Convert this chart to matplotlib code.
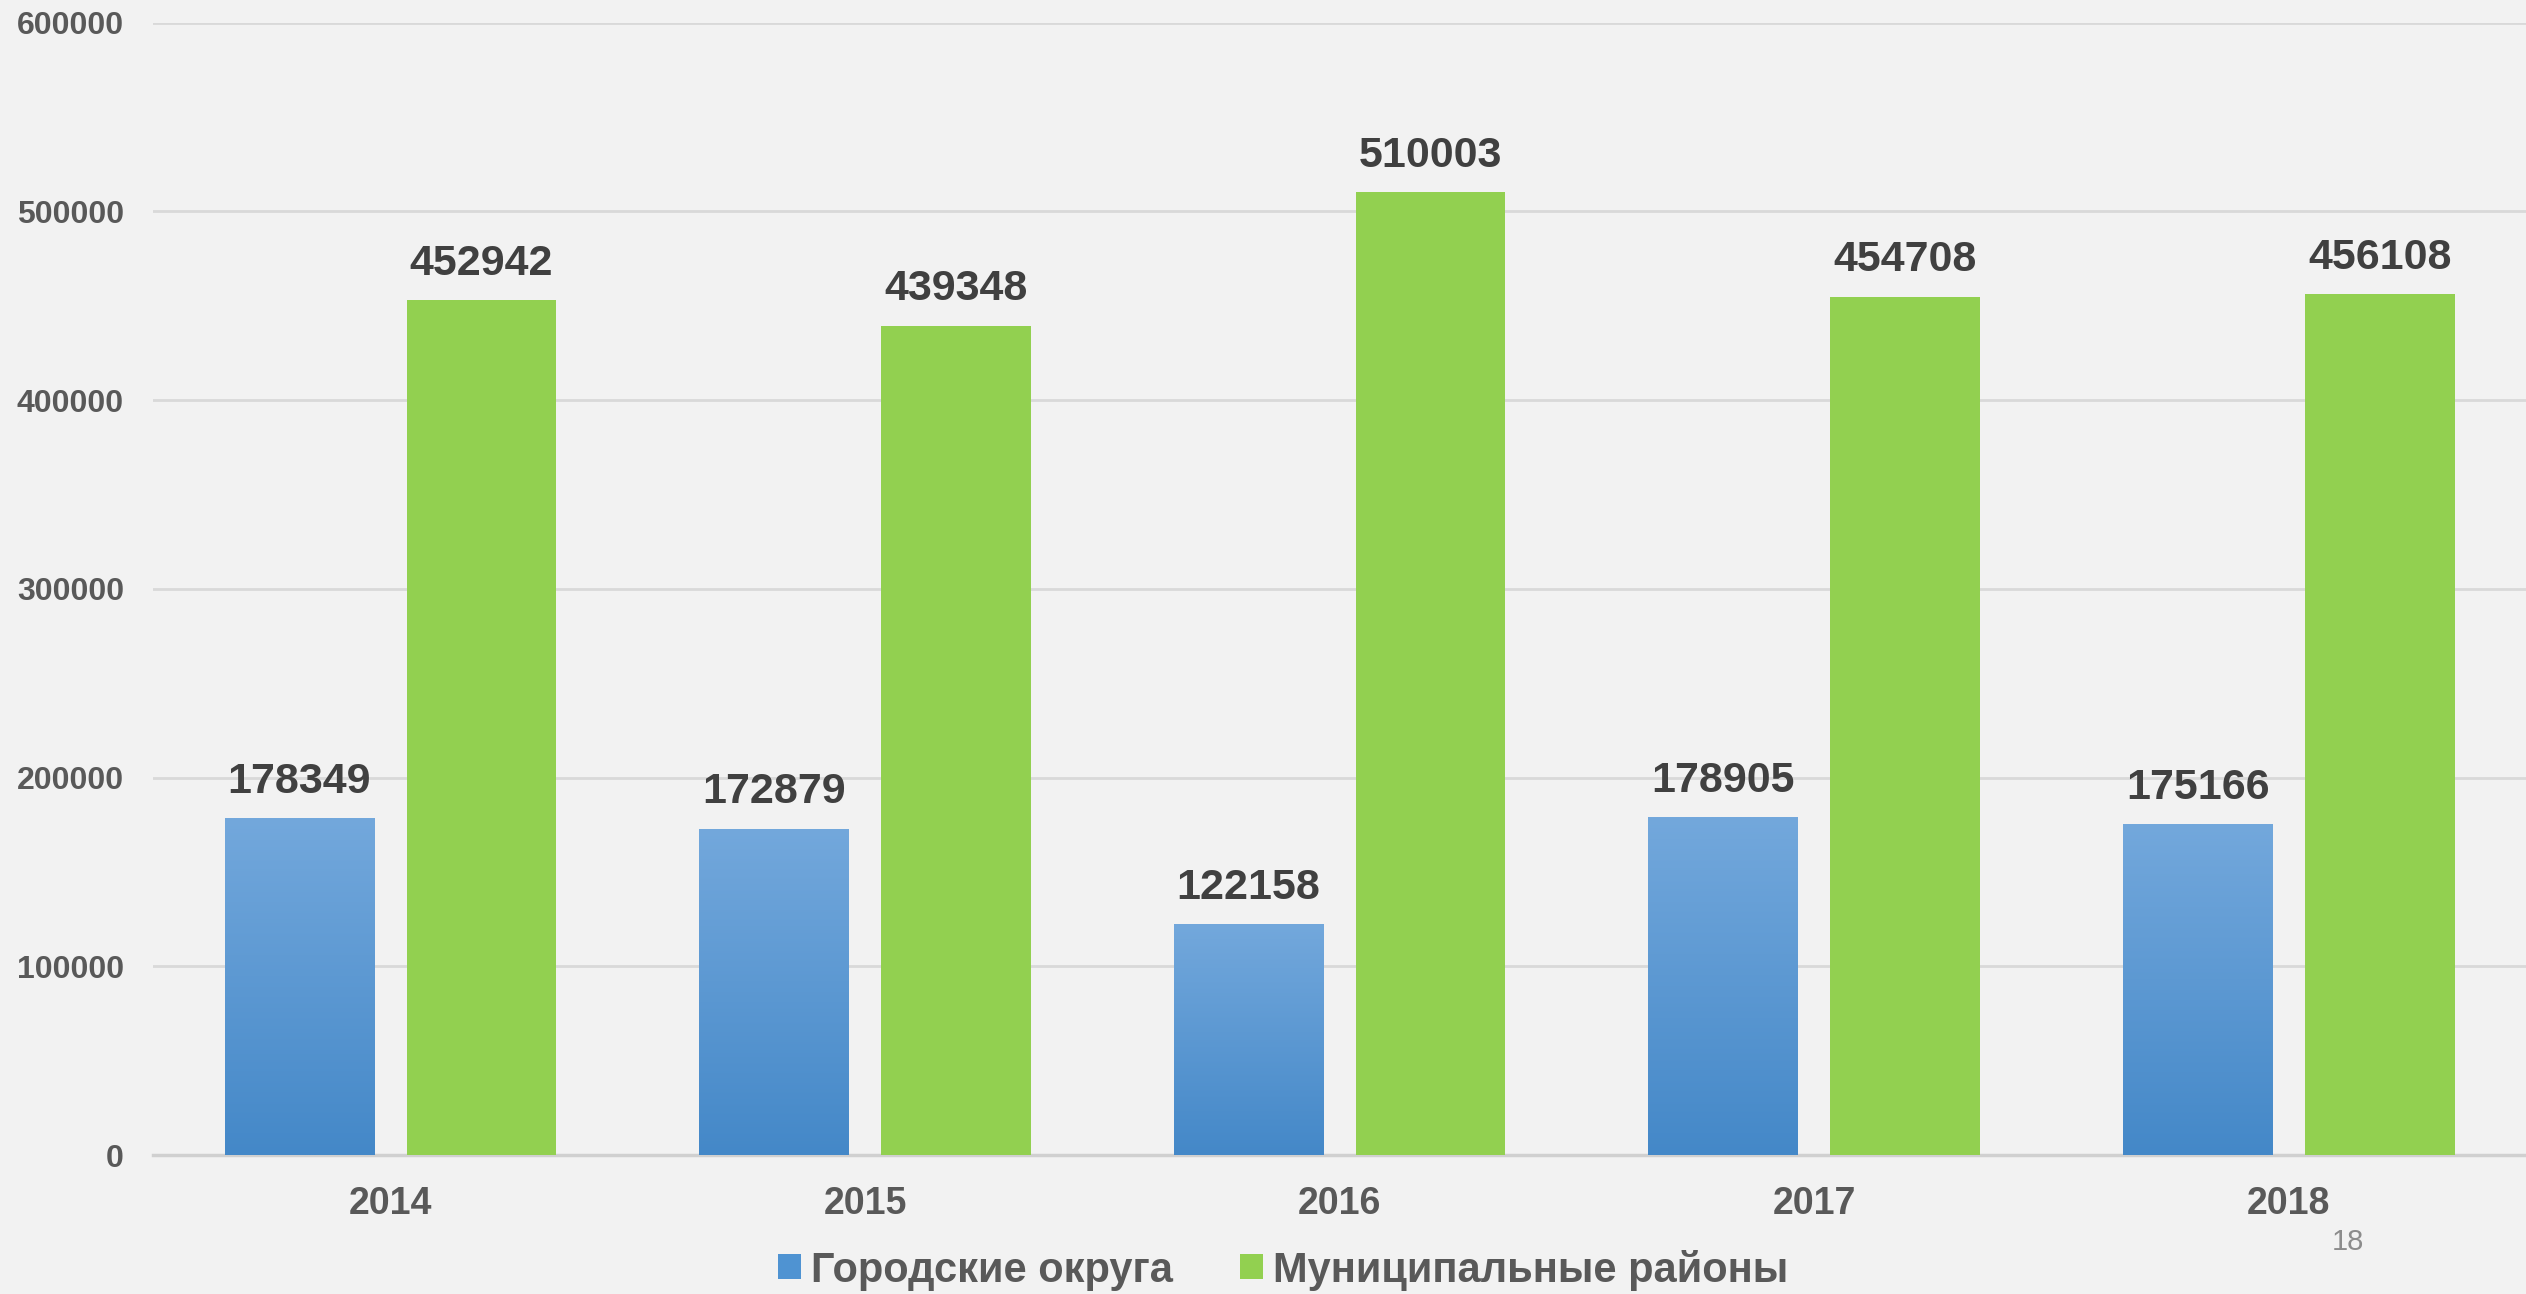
import matplotlib
matplotlib.use("Agg")
import matplotlib.pyplot as plt
import numpy as np
from matplotlib import font_manager as fm
from matplotlib.colors import LinearSegmentedColormap
from matplotlib.patches import Patch

years = ["2014", "2015", "2016", "2017", "2018"]
gorod = [178349, 172879, 122158, 178905, 175166]
mun = [452942, 439348, 510003, 454708, 456108]
series_names = ["Городские округа", "Муниципальные районы"]
yticks = [0, 100000, 200000, 300000, 400000, 500000, 600000]

names = {f.name for f in fm.fontManager.ttflist}
narrow = "Liberation Sans Narrow" if "Liberation Sans Narrow" in names else "Liberation Sans"
FAM = [narrow, "DejaVu Sans"]

BG = "#F2F2F2"
fig = plt.figure(figsize=(25.26, 12.94), dpi=100, facecolor=BG)
ax = fig.add_axes([0.0606, 0.1074, 0.9394, 0.8751], facecolor=BG)

x = np.arange(len(years))
w = 0.315
off = 0.192
bars_b = ax.bar(x - off, gorod, w, color="#5B9BD5", zorder=3)
bars_g = ax.bar(x + off, mun, w, color="#92D050", zorder=3)

cmap = LinearSegmentedColormap.from_list("bl", ["#4488C8", "#73A8DC"])
grad = np.linspace(0, 1, 256).reshape(-1, 1)
for b in bars_b:
    x0, y0 = b.get_x(), b.get_y()
    im = ax.imshow(grad, cmap=cmap, origin="lower", aspect="auto",
                   extent=(x0, x0 + b.get_width(), y0, y0 + b.get_height()), zorder=3.5)
    im.set_clip_path(b)

for bars, vals in ((bars_b, gorod), (bars_g, mun)):
    for b, v in zip(bars, vals):
        ax.annotate(str(v), (b.get_x() + b.get_width() / 2, v), xytext=(0, 12),
                    textcoords="offset points", ha="center", va="bottom",
                    fontsize=31, fontweight="bold", color="#404040", family=FAM, zorder=5)

ax.set_xlim(-0.5, 4.5)
ax.set_ylim(0, 600000)
ax.set_yticks(yticks)
ax.set_yticklabels([str(t) for t in yticks])
ax.set_xticks(x)
ax.set_xticklabels(years)
ax.grid(axis="y", color="#D9D9D9", linewidth=2, zorder=0)
ax.set_axisbelow(True)
for s in ("top", "right", "left"):
    ax.spines[s].set_visible(False)
ax.spines["bottom"].set_color("#D0D0D0")
ax.spines["bottom"].set_linewidth(2.5)
ax.tick_params(axis="both", length=0)
ax.tick_params(axis="y", pad=21)
ax.tick_params(axis="x", pad=22)
for lab in ax.get_yticklabels():
    lab.set_fontsize(23); lab.set_fontweight("bold"); lab.set_color("#595959"); lab.set_family(FAM)
for lab in ax.get_xticklabels():
    lab.set_fontsize(27); lab.set_fontweight("bold"); lab.set_color("#595959"); lab.set_family(FAM)

handles = [Patch(facecolor="#4F93D2"), Patch(facecolor="#92D050")]
leg = fig.legend(handles, series_names, loc="center", bbox_to_anchor=(0.508, 0.0185),
                 ncol=2, frameon=False, handlelength=0.55, handleheight=0.55,
                 handletextpad=0.25, columnspacing=1.6,
                 prop={"family": FAM, "size": 30, "weight": "bold"})
for t in leg.get_texts():
    t.set_color("#595959")

fig.text(0.9295, 0.0405, "18", fontsize=21, color="#8C8C8C", ha="center", va="center",
         family=["Liberation Sans", "DejaVu Sans"])

fig.savefig("out.png", dpi=100, facecolor=BG)
